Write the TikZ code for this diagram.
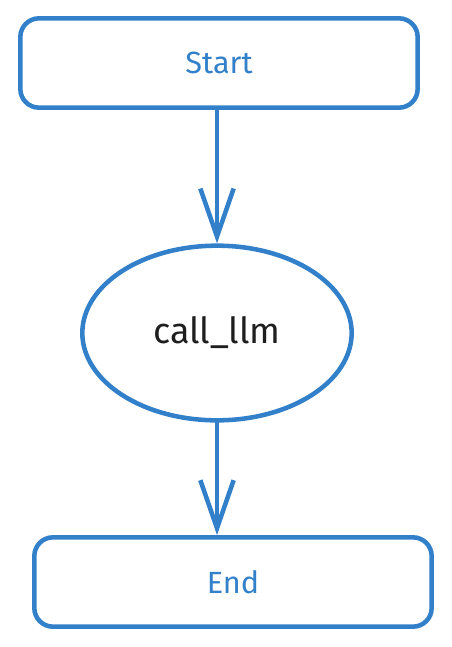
\documentclass[tikz,border=0pt]{standalone}
\usepackage{fontspec}
\setmainfont{Fira Sans}
\usepackage{xcolor}
\usetikzlibrary{shapes.geometric,arrows.meta}

\definecolor{sketchblue}{RGB}{50,128,202}
\definecolor{inkblack}{RGB}{30,30,30}

\tikzset{
  stepbox/.style={draw=sketchblue, line width=3.4pt, rounded corners=14pt,
    minimum width=298pt, minimum height=67pt, inner sep=0pt,
    text=sketchblue, font=\fontsize{23}{27}\selectfont},
  callnode/.style={ellipse, draw=sketchblue, line width=3.4pt,
    minimum width=202pt, minimum height=131pt, inner sep=0pt,
    text=inkblack, font=\fontsize{27}{32}\selectfont},
  flow/.style={draw=sketchblue, line width=3.4pt, line cap=round, line join=round,
    -{Straight Barb[length=36pt,width=25pt,line width=3.4pt]}}
}

\begin{document}
\begin{tikzpicture}[x=0.75pt, y=-0.75pt]
        \useasboundingbox (0,0) rectangle (451,647);
        \node [stepbox] (S) at (219,63) {Start};
        \node [callnode] (C) at (217,333) {call\_llm};
        \node [stepbox] (E) at (233,582) {End};
        \draw [flow] (S.south -| C.north) -- (C.north);
        \draw [flow] (C.south) -- (C.south |- E.north);
\end{tikzpicture}
\end{document}
